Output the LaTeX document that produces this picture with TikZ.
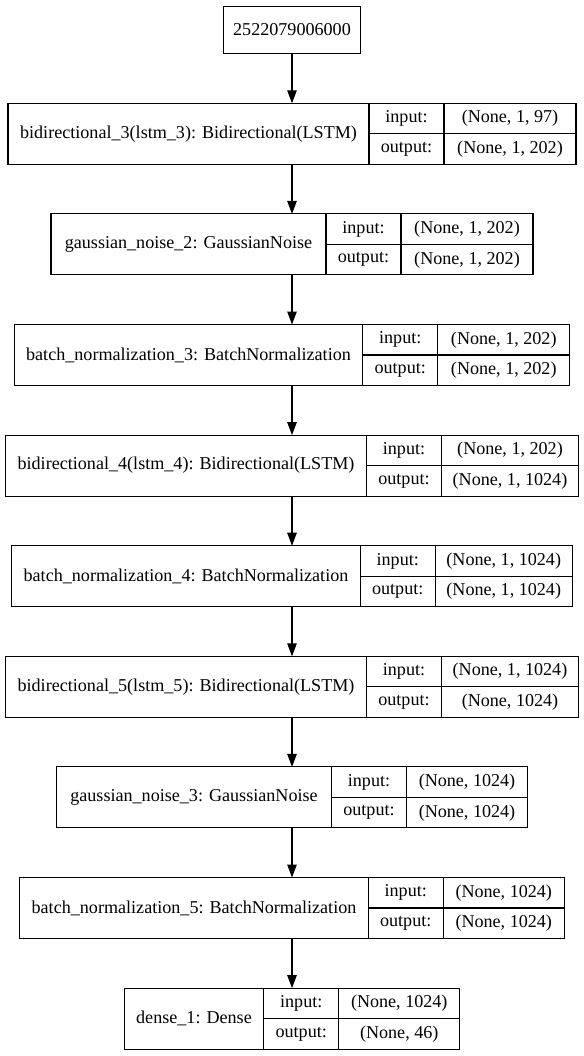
\documentclass[tikz,border=0pt]{standalone}
\usepackage{fontspec}
\setmainfont{Liberation Serif}
\usetikzlibrary{arrows.meta}

\tikzset{
  rec/.style={draw, line width=1.15pt, rectangle, inner sep=0pt, outer sep=0pt},
  cell/.style={line width=1.15pt},
  txt/.style={inner sep=0pt, font=\fontsize{18.1}{22}\selectfont},
  link/.style={line width=1.15pt, -{Triangle[length=13pt, width=9.5pt]}},
}

% One layer record: #1 name, #2 top edge, #3 label column width,
% #4 shape column width, #5 layer label, #6 input shape, #7 output shape
\newcommand\kerasrec[7]{%
  \pgfmathsetmacro\recw{#3+75+#4}%
  \node[rec, minimum width=\recw pt, minimum height=61pt] (#1) at (292,#2+30.5) {};
  \draw[cell] ([xshift=#3 pt]#1.north west) -- ([xshift=#3 pt]#1.south west);
  \draw[cell] ([xshift=#3 pt+75pt]#1.north west) -- ([xshift=#3 pt+75pt]#1.south west);
  \draw[cell] ([xshift=#3 pt]#1.west) -- (#1.east);
  \node[txt] (#1-lbl) at ([xshift=#3 pt/2]#1.west) {#5};
  \node[txt] (#1-inl) at ([xshift=#3 pt+37.5pt, yshift=15.25pt]#1.west) {input:};
  \node[txt] (#1-outl) at ([xshift=#3 pt+37.5pt, yshift=-15.25pt]#1.west) {output:};
  \node[txt] (#1-in) at ([xshift=#3 pt+75pt+#4 pt/2, yshift=15.25pt]#1.west) {#6};
  \node[txt] (#1-out) at ([xshift=#3 pt+75pt+#4 pt/2, yshift=-15.25pt]#1.west) {#7};
}

\begin{document}
\begin{tikzpicture}[x=1pt, y=-1pt]
  \useasboundingbox[fill=white] (0,0) rectangle (583,1056);

  \node[rec, minimum width=137pt, minimum height=47pt] (inp) at (292,30) {};
  \node[txt] (inp-lbl) at (inp.center) {2522079006000};

  \kerasrec{b1}{103.3}{361}{132}{bidirectional\_3(lstm\_3): Bidirectional(LSTM)}{(None, 1, 97)}{(None, 1, 202)}
  \kerasrec{g2}{213.9}{275}{132}{gaussian\_noise\_2: GaussianNoise}{(None, 1, 202)}{(None, 1, 202)}
  \kerasrec{n3}{324.5}{348.5}{132}{batch\_normalization\_3: BatchNormalization}{(None, 1, 202)}{(None, 1, 202)}
  \kerasrec{b4}{435.1}{361}{137}{bidirectional\_4(lstm\_4): Bidirectional(LSTM)}{(None, 1, 202)}{(None, 1, 1024)}
  \kerasrec{n4}{545.7}{348.5}{137}{batch\_normalization\_4: BatchNormalization}{(None, 1, 1024)}{(None, 1, 1024)}
  \kerasrec{b5}{656.3}{361}{137}{bidirectional\_5(lstm\_5): Bidirectional(LSTM)}{(None, 1, 1024)}{(None, 1024)}
  \kerasrec{g3}{766.9}{275}{121}{gaussian\_noise\_3: GaussianNoise}{(None, 1024)}{(None, 1024)}
  \kerasrec{n5}{877.5}{348.5}{121}{batch\_normalization\_5: BatchNormalization}{(None, 1024)}{(None, 1024)}
  \kerasrec{d1}{988.1}{139.5}{121}{dense\_1: Dense}{(None, 1024)}{(None, 46)}

  \draw[link] (inp) -- (b1);
  \draw[link] (b1) -- (g2);
  \draw[link] (g2) -- (n3);
  \draw[link] (n3) -- (b4);
  \draw[link] (b4) -- (n4);
  \draw[link] (n4) -- (b5);
  \draw[link] (b5) -- (g3);
  \draw[link] (g3) -- (n5);
  \draw[link] (n5) -- (d1);
\end{tikzpicture}
\end{document}
